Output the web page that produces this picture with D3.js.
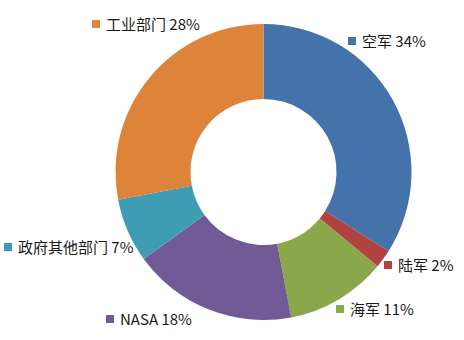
<!DOCTYPE html>
<html>
<head>
<meta charset="utf-8">
<script src="https://cdn.jsdelivr.net/npm/d3@7"></script>
<style>
  body { margin: 0; background: #fff; }
  svg { display: block; }
</style>
</head>
<body>
<div id="chart"></div>
<script>
(() => {
    const width = 464, height = 340;

    // 数据
    const categories = ["空军", "陆军", "海军", "NASA", "政府其他部门", "工业部门"];
    const values = [34, 2, 11, 18, 7, 28];
    const colors = ["#4472AA", "#B0423F", "#8AA84B", "#725A96", "#3E9CB4", "#DE843A"];

    // 标签位置 (Excel 最佳匹配)
    const labelPos = [
        [348, 37], [384, 261], [336, 305], [106, 315], [4, 243], [92, 20]
    ];

    const cx = 263.5, cy = 172, outerR = 148, innerR = 73;

    const svg = d3.select("#chart").append("svg")
        .attr("width", width)
        .attr("height", height);

    const pie = d3.pie()
        .sort(null)
        .value(d => d.value);

    const arcs = pie(categories.map((c, i) => ({ name: c, value: values[i] })));

    const arc = d3.arc()
        .innerRadius(innerR)
        .outerRadius(outerR);

    const g = svg.append("g")
        .attr("transform", `translate(${cx},${cy})`);

    g.selectAll("path")
        .data(arcs)
        .join("path")
        .attr("d", arc)
        .attr("fill", (d, i) => colors[i]);

    const labels = svg.selectAll("g.label")
        .data(arcs)
        .join("g")
        .attr("class", "label")
        .attr("transform", (d, i) => `translate(${labelPos[i][0]},${labelPos[i][1]})`);

    labels.append("rect")
        .attr("width", 8)
        .attr("height", 8)
        .attr("fill", (d, i) => colors[i]);

    labels.append("text")
        .attr("x", 14)
        .attr("y", 4.5)
        .attr("dy", "0.36em")
        .attr("font-family", "'Noto Sans CJK SC', 'Noto Sans', sans-serif")
        .attr("font-size", "15px")
        .attr("fill", "#1a1a1a")
        .text(d => `${d.data.name} ${d.data.value}%`);
})();
</script>
</body>
</html>
